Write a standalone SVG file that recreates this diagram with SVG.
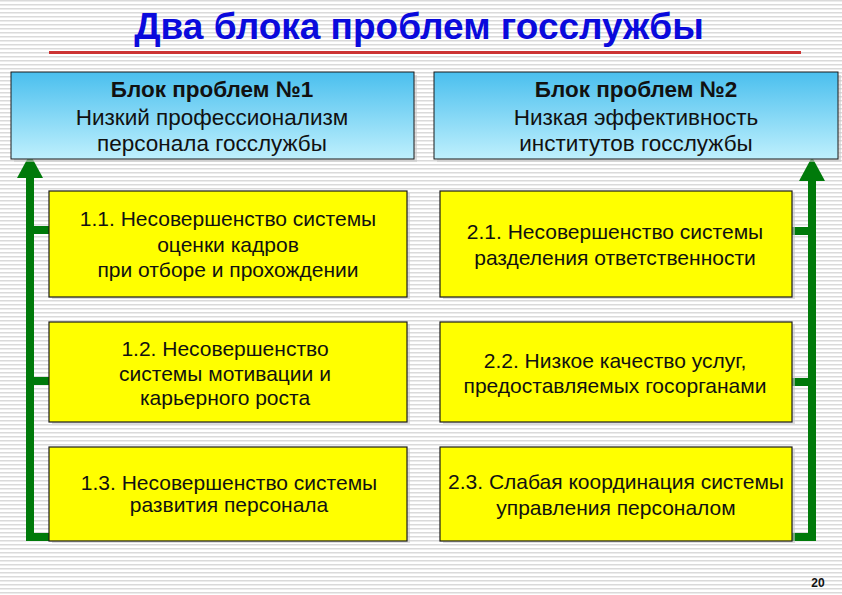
<svg xmlns="http://www.w3.org/2000/svg" width="842" height="595" viewBox="0 0 842 595">
<defs>
<pattern id="stripes" width="8" height="4" patternUnits="userSpaceOnUse">
<rect width="8" height="4" fill="#ffffff"/>
<rect y="0" width="8" height="1.5" fill="#dadada"/>
</pattern>
<linearGradient id="blue" x1="0" y1="0" x2="0" y2="1">
<stop offset="0" stop-color="#4abfee"/>
<stop offset="1" stop-color="#bff0fd"/>
</linearGradient>
</defs>
<style>
.hdr{fill:url(#blue);stroke:#1a1a1a;stroke-width:1}
.yel{fill:#ffff00;stroke:#1a1a1a;stroke-width:1.2}
.sh{fill:#c8c8c8;opacity:0.6}
.t{font-family:"Liberation Sans",Arial,sans-serif;font-size:21px;fill:#111;text-anchor:middle}
.h{font-size:22.5px}
.b{font-weight:bold}
.g{stroke:#007a0a;stroke-width:8;fill:none}
</style>
<rect width="842" height="595" fill="url(#stripes)"/>
<text x="419" y="39" font-family="'Liberation Sans',Arial,sans-serif" font-size="37" font-weight="bold" fill="#0a0adc" text-anchor="middle">Два блока проблем госслужбы</text>
<rect x="49" y="51" width="752" height="3" fill="#cc3333"/>
<g id="connectors">
<path class="g" d="M30,537 V178"/>
<path d="M17,178 L30,154 L43,178 Z" fill="#007a0a"/>
<path class="g" d="M26,537 H50 M30,230 H50 M30,381 H50"/>
<path class="g" d="M812,537 V181"/>
<path d="M799,181 L812,157 L825,181 Z" fill="#007a0a"/>
<path class="g" d="M792,537 H816 M792,231 H812 M792,382 H812"/>
</g>
<g id="block1">
<rect class="sh" x="14" y="75" width="403" height="87"/>
<rect class="hdr" x="11" y="72" width="403" height="87"/>
<text class="t h b" x="212" y="97">Блок проблем №1</text>
<text class="t h" x="212" y="125">Низкий профессионализм</text>
<text class="t h" x="212" y="151">персонала госслужбы</text>
</g>
<g id="block2">
<rect class="sh" x="437" y="75" width="404" height="87"/>
<rect class="hdr" x="434" y="72" width="404" height="87"/>
<text class="t h b" x="636" y="97">Блок проблем №2</text>
<text class="t h" x="636" y="125">Низкая эффективность</text>
<text class="t h" x="636" y="151">институтов госслужбы</text>
</g>
<g id="p11">
<rect class="sh" x="52" y="193" width="358" height="106"/>
<rect class="yel" x="49" y="191" width="358" height="106"/>
<text class="t" x="228" y="226">1.1. Несовершенство системы</text>
<text class="t" x="228" y="252">оценки кадров</text>
<text class="t" x="228" y="277">при отборе и прохождении</text>
</g>
<g id="p12">
<rect class="sh" x="52" y="324" width="358" height="100"/>
<rect class="yel" x="49" y="322" width="358" height="100"/>
<text class="t" x="225" y="356">1.2. Несовершенство</text>
<text class="t" x="225" y="381">системы мотивации и</text>
<text class="t" x="225" y="405">карьерного роста</text>
</g>
<g id="p13">
<rect class="sh" x="52" y="449" width="358" height="94"/>
<rect class="yel" x="49" y="447" width="358" height="94"/>
<text class="t" x="229" y="490">1.3. Несовершенство системы</text>
<text class="t" x="229" y="512">развития персонала</text>
</g>
<g id="p21">
<rect class="sh" x="443" y="193" width="352" height="106"/>
<rect class="yel" x="440" y="191" width="352" height="106"/>
<text class="t" x="615" y="239">2.1. Несовершенство системы</text>
<text class="t" x="615" y="265">разделения ответственности</text>
</g>
<g id="p22">
<rect class="sh" x="443" y="324" width="352" height="100"/>
<rect class="yel" x="440" y="322" width="352" height="100"/>
<text class="t" x="615" y="368">2.2. Низкое качество услуг,</text>
<text class="t" x="615" y="393">предоставляемых госорганами</text>
</g>
<g id="p23">
<rect class="sh" x="443" y="449" width="352" height="94"/>
<rect class="yel" x="440" y="447" width="352" height="94"/>
<text class="t" x="616" y="489">2.3. Слабая координация системы</text>
<text class="t" x="616" y="515">управления персоналом</text>
</g>
<text x="818" y="587" font-family="'Liberation Sans',Arial,sans-serif" font-size="12" font-weight="bold" fill="#111" text-anchor="middle">20</text>
</svg>
